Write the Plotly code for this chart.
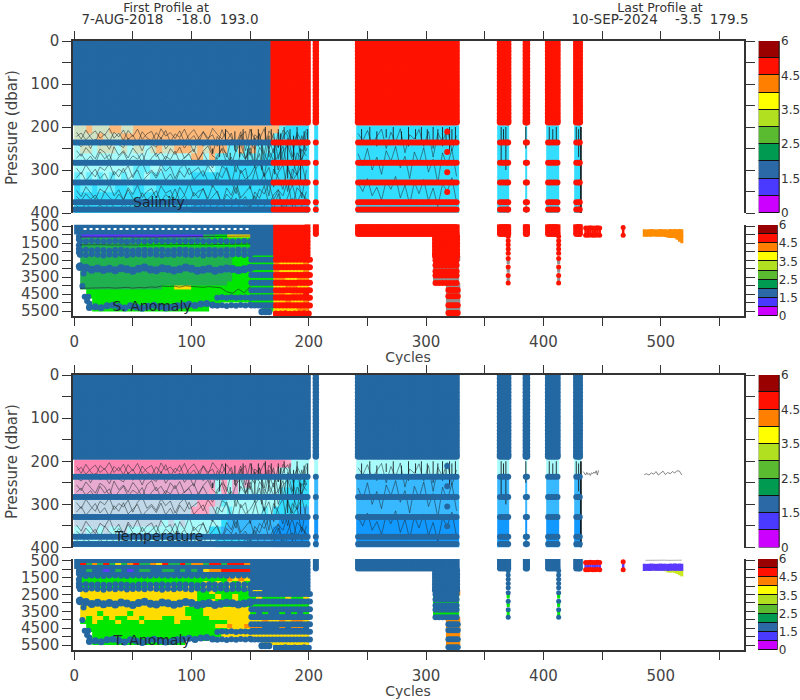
import plotly.graph_objects as go

# ---------- palette ----------
palette = {
    'B': '#2468a2', 'R': '#ff1200', 'G': '#20b050', 'L': '#00e800', 'Y': '#ffdc00', 'O': '#ff8c00',
    'P': '#fcb97a', 'S': '#cfe3c4', 'C': '#a8fbfb', 'M': '#66eeff', 'A': '#33ddff', 'D': '#25c0ff',
    'K': '#ff85b0', 'N': '#ffa6c4', 'U': '#e8aad0', 'V': '#c0d8e8', 'E': '#38b8ff', 'F': '#1199ff',
    'I': '#5a38ff', 'T': '#c8e820',
}
codes = list(palette)

# ---------- colour key ----------
cbar_colors = ['#cc00ff', '#4a3aff', '#2a69a6', '#009a50', '#5abb30', '#b0e020', '#ffff00', '#ff8000', '#ff1000', '#990000']
cbar_steps = [1] * 10
cbar_ticks = [0, 2, 4, 6, 8, 10]
cbar_labels = ['0', '1.5', '2.5', '3.5', '4.5', '6']

# ---------- cell grids ----------
cycle_edges = [0, 5, 10, 15, 20, 25, 30, 35, 40, 45, 50, 55, 60, 65, 70, 75, 80, 85, 90, 95, 100, 105, 110, 115, 120,
               125, 130, 135, 140, 145, 150, 155, 160, 165, 170, 175, 180, 185, 190, 195, 200,
               204.5, 208, 240, 250, 260, 270, 280, 290, 300, 310, 320, 328, 361, 371, 384.7, 386.5, 402.3, 413.4, 426.6, 432]
shallow_edges = [196, 215, 236, 260, 283, 306, 330, 352, 375, 400]
deep_edges = [400, 620, 760, 1000, 1150, 1400, 1700, 2000, 2250, 2500, 2750, 3000, 3250, 3500, 3750, 4000, 4250, 4500,
              4750, 5000, 5250, 5500, 5800]

late_a = ".A.AAAAAAAAA.A.A.A.A"
late_c = ".C.CCCCCCCCC.C.C.C.C"
late_e = ".E.EEEEEEEEE.E.E.E.E"
late_f = ".F.FFFFFFFFF.F.F.F.F"
late_x = "." * 20

sal_cells = [
    "SSPSSSPPSS" + "P" * 24 + "PMAAAA" + late_a,
    "SSSSPSSSPP" + "P" * 24 + "MAAAAA" + late_a,
    "CSSCSSSCSC" + "SSCSPSSPPP" + "SPSPPPMMPM" + "PMMM" + "AAAAAA" + late_a,
    "C" * 20 + "PPCPMMMMMM" + "MMAA" + "A" * 6 + late_a,
    "C" * 10 + "MMMCCMMMMM" + "MMMCMAAAAA" + "AAAA" + "A" * 6 + late_a,
    "MCMCMCMCMC" + "MMCMMMMMMM" + "A" * 10 + "AAAA" + "A" * 6 + late_a,
    "AMMAMMMAAM" + "AAMMAAAAAA" + "A" * 10 + "AAAA" + "A" * 6 + late_a,
    "A" * 40 + late_a,
    "A" * 20 + "D" * 20 + late_a,
]
tem_cells = [
    "K" * 36 + "NCCC" + late_c,
    "K" * 34 + "NCCCCC" + late_c,
    "U" * 20 + "UUUUCNCUCU" + "CCCC" + "CCMAAA" + late_e,
    "U" * 20 + "UUUNCNCUCC" + "CCCC" + "CMAAAA" + late_e,
    "V" * 20 + "VNNNVMCCCC" + "CCCC" + "CAAAAA" + late_e,
    "V" * 20 + "NNNVCCMCCC" + "CCMC" + "AAAAEE" + late_e,
    "V" * 15 + "CVCVC" + "CCCCCAEEEE" + "EEEE" + "EFFFFF" + late_f,
    "CVCVCVCCVC" + "C" * 10 + "CCCAAEEEEE" + "EEEE" + "FFFFFF" + late_f,
    "C" * 24 + "AAAAAE" + "EEEE" + "FFFFFF" + late_f,
]
san_cells = [
    "B" * 34 + "R" * 6 + late_x,
    "B" * 34 + "R" * 6 + late_x,
    "B" * 34 + "R" * 6 + late_x,
    "." + "I" * 21 + "GG" + "LL" + "YYYY" + "B" * 4 + "R" * 6 + late_x,
    "." + "G" * 22 + "L" * 7 + "B" * 4 + "R" * 6 + late_x,
    "." + "G" * 10 + "L" * 19 + "B" * 4 + "R" * 6 + late_x,
    "." + "G" * 29 + "B" * 4 + "R" * 6 + late_x,
    "." + "G" * 29 + "B" * 4 + "R" * 6 + late_x,
    "." + "G" * 26 + "LLL" + "LLLL" + "R" * 6 + late_x,
    "." + "G" * 26 + "LLL" + "LLLL" + "OYYYYO" + late_x,
    "." + "G" * 26 + "LLL" + "BBBB" + "R" * 6 + late_x,
    "." + "G" * 26 + "LLL" + "LLLL" + "OYYYYO" + late_x,
    "." + "G" * 26 + "LLL" + "BBBB" + "R" * 6 + late_x,
    "." + "G" * 26 + "LLL" + "LLLL" + "OOYYOO" + late_x,
    "." + "G" * 25 + "LLLL" + "BBBB" + "R" * 6 + late_x,
    "." + "G" * 14 + "LLYYYLLL" + "L" * 7 + "LLLL" + "YYOOYY" + late_x,
    ".." + "L" * 28 + "LLLL" + "OOYOOR" + late_x,
    ".." + "L" * 28 + "BBBB" + "R" * 6 + late_x,
    "..." + "L" * 27 + "LLLL" + "YYOYYO" + late_x,
    "..." + "L" * 22 + "....." + "BBBB" + "R" * 6 + late_x,
    "..." + "L" * 20 + "......." + "..LL" + "YYYYOO" + late_x,
    "." * 34 + "R" * 6 + late_x,
]
tan_cells = [
    "B" * 40 + late_x,
    "B" + "RGOGRGYGOR" + "GGOYRGGRGO" + "OGRRGRRRO" + "B" * 10 + late_x,
    "B" * 40 + late_x,
    "." + "BGBBIBGBIB" + "GGBBGGBGBG" + "BYOORRRRR" + "B" * 10 + late_x,
    "." + "B" * 29 + "B" * 10 + late_x,
    "." + "L" * 25 + "OYOY" + "B" * 10 + late_x,
    "." + "L" * 20 + "LYLYLYLYL" + "B" * 10 + late_x,
    "." + "L" * 10 + "LLYLLYLLYL" + "LYLLLYLLY" + "BBBB" + "B" * 6 + late_x,
    "." + "Y" * 20 + "LLYLLLLLL" + "YYBB" + "B" * 6 + late_x,
    "." + "Y" * 20 + "LLLYLLYLL" + "LYLL" + "LLYLLY" + late_x,
    "." + "Y" * 20 + "LLYLLLYLL" + "BBBB" + "B" * 6 + late_x,
    "." + "Y" * 20 + "L" * 9 + "LLLL" + "L" * 6 + late_x,
    "." + "Y" * 18 + "LLL" + "Y" * 8 + "BBBB" + "B" * 6 + late_x,
    "." + "YYYLYYYYLY" + "YYYYYYYY" + "LLL" + "Y" * 8 + "LBLB" + "BLBLBL" + late_x,
    "." + "YLYYLYLLYY" + "LYYYLLYYY" + "LLL" + "Y" * 7 + "BBBB" + "B" * 6 + late_x,
    "." + "LLYLLLYLLL" + "YLLLLLYLLLLLLL" + "LYYYY" + "YYOY" + "YOYOOY" + late_x,
    ".." + "L" * 22 + "YYOYYO" + "OOBB" + "BOBOOB" + late_x,
    ".." + "L" * 24 + "YYYY" + "BBBB" + "B" * 6 + late_x,
    "..." + "L" * 22 + "YYYYY" + "YYYY" + "YYYYYY" + late_x,
    "..." + "L" * 20 + "......." + "BBBB" + "B" * 6 + late_x,
    "..." + "L" * 16 + "." * 11 + "..YY" + "YYYYYY" + late_x,
    "." * 34 + "B" * 6 + late_x,
]

# ---------- flagged levels ----------
block_spans = [(0, 199), (206, 206), (242, 326), (363, 370), (385, 386), (404, 412), (428, 431)]
upper_levels = [0, 8, 16, 24, 32, 40, 48, 56, 64, 72, 80, 88, 96, 104, 112, 120, 128, 136, 144, 152, 160, 168, 176, 184, 189]
band_levels = [236, 283, 329, 375, 392]
lone_cycle = [318, 318, 318, 318]
lone_levels = [211, 258, 305, 351]
flag_switch_cycle = 170

deep_block_spans = [(206, 206), (242, 326), (363, 370), (385, 386), (404, 412), (428, 431)]
deep_block_levels = [400, 520, 640, 760, 880, 960]
edge_cycle = [199]
edge_levels = [400, 600, 800, 1000, 1200, 1400, 1600, 1800, 2000, 2200]
tail_cycles = [308, 311, 314, 317, 320, 323, 326]
tail_block_levels = [1100, 1300, 1500, 1700, 1900, 2100, 2250]
tail_row_levels = [2500, 2800, 3150, 3400, 3850]
tail_fill_levels = [2650, 2950, 3270, 3550, 3700]
end_cycles = [319, 321, 323, 325, 327]
end_row_levels = [4260, 4620, 5150, 5620]
end_fill_levels = [2400, 4000, 4440, 4880, 5380]
column_cycles = [370, 413]
column_levels = [1100, 1350, 1600, 1850, 2100]
column_dot_levels = [2400, 2900, 3400, 3850]
column_fill_levels = [2550, 2650, 3050, 3150, 3550, 3700]

# ---------- deep level rows ----------
row_cycles = [5, 10, 15, 20, 25, 30, 35, 40, 45, 50, 55, 60, 65, 70, 75, 80, 85, 90, 95, 100, 105, 110, 115, 120, 125, 130, 135, 140, 145, 150]
row_a = [1380, 1400, 1375, 1385, 1405, 1380, 1370, 1385, 1410, 1375, 1380, 1395, 1385, 1375, 1380, 1390, 1370, 1385, 1380, 1395, 1375, 1385, 1390, 1380, 1375, 1385, 1395, 1380, 1370, 1385]
row_b = [1910, 1890, 1930, 1905, 1920, 1940, 1900, 1890, 1925, 1950, 1910, 1895, 1930, 1920, 1900, 1940, 1915, 1890, 1905, 1930, 1950, 1920, 1895, 1910, 1940, 1900, 1925, 1890, 1915, 1930]
row_c = [2170, 2200, 2150, 2180, 2220, 2160, 2190, 2140, 2210, 2170, 2155, 2195, 2140, 2180, 2215, 2160, 2190, 2145, 2175, 2200, 2150, 2220, 2165, 2190, 2140, 2205, 2170, 2155, 2190, 2175]
row_d = [2900, 2950, 3060, 2990, 3080, 3010, 3100, 2980, 3040, 3120, 3000, 2930, 3050, 3090, 2970, 3020, 3110, 3030, 2940, 3010, 3120, 3060, 3000, 3130, 3050, 2990, 3020, 3100, 3040, 2960]
base_cycles = [13, 18, 23, 28, 33, 38, 43, 48, 53, 58, 63, 68, 73, 78, 83, 88, 93, 98, 103, 108, 113, 118]
base_levels = [5290, 5240, 5300, 5190, 5150, 5230, 5320, 5180, 5260, 5340, 5210, 5150, 5240, 5320, 5280, 5190, 5150, 5100, 5170, 5080, 5050, 5140]
stub_cycles = [4, 4, 4, 4, 4, 5, 5, 4, 8, 7, 9, 12, 11, 13]
stub_levels = [1100, 1280, 1620, 1850, 2050, 2180, 2800, 2860, 3280, 4020, 4650, 4650, 4900, 5050]
side_cycles = [122, 126, 130, 134, 138, 142, 146, 150]
side_high = [4720, 4690, 4710, 4680, 4720, 4700, 4700, 4710]
side_low = [5190, 5150, 5200, 5160, 5190, 5140, 5170, 5120]
late_cycles = [151, 154, 157, 160, 163, 166, 169, 172, 175, 178, 181, 184, 187, 190, 193, 196, 199, 201]
late_levels = [2480, 2920, 3370, 3830, 4270, 4710, 5170]
floor_a_cycles = [160, 163, 166]
floor_a_levels = [5540, 5540, 5540]
floor_b_cycles = [172, 176, 180, 184, 188, 192, 196, 200]
floor_b_levels = [5650, 5650, 5630, 5660, 5640, 5650, 5630, 5650]

# ---------- late drifting profiles ----------
twin_cycles = [436, 438, 440, 442, 444, 446, 448, 468]
twin_upper = [600, 600, 590, 600, 600, 590, 600, 570]
twin_lower = [1030, 1030, 1020, 1030, 1030, 1020, 1030, 1030]
drift_cycles = [486, 488, 490, 492, 494, 496, 498, 500, 502, 504, 506, 508, 510, 512, 514, 516, 518]
drift_top = [680, 690, 680, 670, 680, 690, 680, 670, 680, 680, 690, 670, 680, 660, 680, 670, 680]
drift_mid = [1110, 1100, 1110, 1100, 1090, 1100, 1100, 1100, 1100, 1090, 1110, 1100, 1090, 1100, 1100, 1100, 1100]
drift_bot = [1110, 1100, 1110, 1100, 1090, 1100, 1100, 1100, 1100, 1130, 1180, 1200, 1190, 1210, 1300, 1420, 1500]
drift_tan_bot = [1110, 1100, 1110, 1100, 1090, 1100, 1100, 1100, 1100, 1130, 1190, 1210, 1200, 1230, 1290, 1360, 1430]
gap_cycles = [434, 435, 436, 437, 438, 439, 440, 441, 442, 443, 444, 445, 446, 447, None, 486, 488, 490, 492, 494, 496, 498, 500, 502, 504, 506, 508, 510, 512, 514, 516, 518]
gap_pressure = [224, 230, 232, 226, 231, 228, 233, 227, 229, 225, 228, 222, 232, 221, None, 231, 229, 232, 227, 230, 224, 232, 228, 223, 231, 226, 229, 224, 227, 222, 223, 232]
deep_gap_cycles = [487, 491, 495, 499, 503, 507, 511, 515, 518]
deep_gap_pressure = [480, 470, 480, 490, 470, 480, 475, 480, 470]

# ---------- profile traces ----------
wiggle_cycles = [2, 6, 10, 14, 18, 22, 26, 30, 34, 38, 42, 46, 50, 54, 58, 62, 66, 70, 74, 78, 82, 86, 90, 94, 98, 102, 106, 110, 114, 118,
                 122, 126, 130, 134, 138, 142, 146, 150, 154, 158, 162, 166, 170, 174, 178, 182, 186, 190, 194, 198]
wig_a = [212, 228, 207, 224, 236, 210, 219, 203, 226, 214, 231, 208, 222, 205, 229, 216, 210, 234, 204, 221, 213, 227, 209, 236, 218, 206, 225, 212, 231, 203, 217, 228, 208, 223, 240, 211, 255, 205, 230, 216, 262, 209, 225, 248, 207, 220, 270, 212, 235, 205]
wig_b = [255, 268, 248, 262, 274, 251, 259, 280, 246, 266, 255, 272, 249, 263, 283, 254, 245, 269, 258, 276, 250, 264, 247, 273, 260, 252, 278, 256, 244, 267, 275, 249, 262, 290, 253, 241, 272, 258, 295, 247, 265, 282, 250, 300, 256, 243, 276, 310, 252, 268]
wig_c = [296, 310, 288, 304, 316, 293, 301, 285, 312, 298, 306, 290, 318, 295, 283, 309, 300, 314, 287, 303, 292, 320, 297, 286, 311, 302, 294, 315, 289, 305, 325, 291, 299, 335, 284, 308, 296, 345, 302, 282, 316, 294, 340, 306, 288, 350, 298, 312, 285, 330]
wig_d = [348, 362, 339, 355, 368, 344, 352, 333, 360, 346, 370, 341, 357, 335, 364, 350, 343, 366, 337, 354, 347, 372, 340, 358, 330, 361, 349, 345, 367, 336, 353, 380, 342, 359, 328, 365, 351, 338, 375, 344, 356, 332, 369, 347, 360, 325, 385, 341, 355, 372]
wig_e = [238, 246, 232, 250, 228, 243, 235, 252, 230, 241, 248, 226, 244, 233, 255, 229, 240, 247, 224, 251, 236, 242, 227, 249, 234, 258, 225, 245, 231, 262, 222, 239, 270, 228, 248, 218, 275, 235, 252, 215, 280, 230, 260, 212, 285, 226, 240, 290, 220, 255]
wig_f = [383, 392, 378, 388, 395, 381, 390, 376, 386, 394, 379, 389, 375, 391, 384, 377, 396, 382, 388, 374, 393, 380, 387, 372, 397, 385, 378, 390, 370, 394, 383, 376, 392, 386, 365, 395, 380, 388, 360, 396, 384, 370, 391, 355, 398, 378, 366, 393, 385, 350]
wig_g = [222, 214, 230, 218, 209, 226, 217, 234, 212, 223, 207, 229, 219, 238, 211, 225, 232, 213, 227, 208, 235, 216, 224, 205, 231, 220, 239, 210, 226, 218, 245, 206, 233, 214, 258, 222, 210, 266, 218, 228, 204, 252, 215, 275, 223, 208, 240, 219, 280, 213]
wig_h = [272, 262, 279, 268, 285, 258, 274, 264, 288, 270, 258, 281, 267, 275, 261, 289, 272, 260, 284, 268, 276, 256, 282, 271, 263, 287, 274, 259, 280, 295, 266, 252, 283, 270, 305, 258, 276, 248, 290, 262, 315, 254, 279, 268, 245, 298, 320, 260, 275, 250]
wig_i = [318, 305, 325, 312, 298, 320, 308, 329, 303, 316, 296, 322, 310, 300, 327, 314, 304, 319, 297, 324, 309, 330, 302, 317, 295, 323, 311, 301, 326, 340, 306, 318, 294, 328, 355, 300, 322, 312, 292, 335, 307, 360, 298, 318, 345, 290, 326, 308, 365, 300]
wig_j = [362, 372, 355, 368, 358, 376, 350, 364, 373, 356, 369, 346, 366, 378, 353, 370, 360, 348, 374, 357, 367, 344, 371, 359, 378, 352, 365, 342, 375, 361, 349, 381, 356, 368, 340, 373, 362, 388, 351, 366, 336, 380, 358, 345, 390, 363, 334, 376, 352, 368]
after_cycles = [242, 246, 250, 254, 258, 262, 266, 270, 274, 278, 282, 286, 290, 294, 298, 302, 306, 310, 314, 318, 322, 326]
after_a = [215, 232, 208, 240, 222, 205, 250, 212, 236, 204, 260, 218, 228, 206, 245, 210, 270, 214, 235, 203, 255, 220]
after_b = [262, 290, 250, 300, 270, 310, 255, 280, 245, 295, 268, 320, 258, 285, 248, 305, 275, 330, 260, 290, 252, 315]
after_c = [330, 350, 320, 360, 340, 370, 325, 345, 315, 365, 335, 380, 328, 355, 322, 372, 342, 385, 332, 350, 318, 375]
spike_x = [118, 124, 129, 133, 137, 141, 144, 148, 151, 154, 157, 160, 163, 166, 168, 171, 174, 176, 179, 182, 184, 187, 190, 193, 196, 199,
           245, 252, 258, 266, 272, 279, 285, 291, 296, 301, 306, 310, 314, 317, 320, 322, 325,
           364, 366, 368, 385, 405, 408, 411, 428, 430]
spike_top = [250, 240, 205, 260, 210, 235, 205, 250, 205, 225, 205, 240, 200, 220, 205, 240, 205, 215, 200, 240, 205, 220, 200, 250, 210, 205,
             205, 200, 210, 205, 200, 210, 200, 205, 200, 205, 200, 205, 200, 205, 200, 205, 200,
             200, 205, 200, 200, 200, 205, 200, 200, 205]
spike_bot = [262, 270, 240, 285, 255, 270, 235, 290, 232, 280, 245, 300, 232, 270, 238, 310, 248, 280, 228, 320, 240, 285, 232, 330, 255, 238,
             235, 230, 245, 225, 240, 230, 245, 228, 238, 232, 250, 235, 245, 240, 255, 235, 230,
             280, 240, 300, 250, 230, 240, 235, 230, 270]
end_line_cycle = [432, 432]
end_line_pressure = [200, 400]
thin_a = [1130, 1140, 1130, 1135, 1140, 1130, 1135, 1140, 1130, 1135, 1140, 1130, 1135, 1140, 1130, 1125, 1130, 1120, 1100, 1090, 1080, 1090, 1085, 1075, 1080, 1085, 1070, 1080, 1075, 1080]
thin_b = [1600, 1590, 1610, 1600, 1590, 1605, 1610, 1590, 1600, 1615, 1590, 1600, 1610, 1590, 1600, 1605, 1590, 1580, 1600, 1590, 1580, 1595, 1600, 1580, 1570, 1590, 1575, 1580, 1560, 1550]
thin_c = [4160, 4150, 4160, 4130, 4150, 4120, 4150, 4130, 4100, 4150, 4110, 4130, 4080, 4100, 4020, 4060, 4030, 4090, 4010, 4050, 4080, 4100, 4060, 4090, 4130, 4360, 4450, 4200, 4430, 4050]
dash_cycles = [8, 150]
dash_levels = [660, 660]

# ---------- axis ticks ----------
cycle_ticks = [0, 50, 100, 150, 200, 250, 300, 350, 400, 450, 500, 550]
cycle_labels = ['0', '', '100', '', '200', '', '300', '', '400', '', '500', '']
shallow_ticks = [0, 50, 100, 150, 200, 250, 300, 350, 400]
shallow_labels = ['0', '', '100', '', '200', '', '300', '', '400']
deep_ticks = [500, 1000, 1500, 2000, 2500, 3000, 3500, 4000, 4500, 5000, 5500]
deep_labels = ['500', '', '1500', '', '2500', '', '3500', '', '4500', '', '5500']

INK = '#333333'
FONT = 'DejaVu Sans'
W, H = 800, 700
AX_L, AX_R = 73, 744
panels = {'': (41, 213), '2': (224.5, 316), '3': (375, 547.5), '4': (559, 650)}

fig = go.Figure()


def spread(spans, step=2):
    out = []
    for a, b in spans:
        c = a
        while c <= b:
            out.append(c)
            c += step
        if out[-1] != b:
            out.append(b)
    return out


def dots(ax, xs, ys, color, size=6, symbol='circle'):
    fig.add_trace(go.Scatter(x=xs, y=ys, mode='markers', xaxis='x' + ax, yaxis='y' + ax, hoverinfo='skip', showlegend=False,
                             marker=dict(color=color, size=size, symbol=symbol, line=dict(width=0))))


def grid(cs, ls):
    xs, ys = [], []
    for c in cs:
        for l in ls:
            xs.append(c)
            ys.append(l)
    return xs, ys


def line(ax, xs, ys, color='rgba(30,40,45,0.75)', width=0.7, dash=None):
    fig.add_trace(go.Scatter(x=xs, y=ys, mode='lines', xaxis='x' + ax, yaxis='y' + ax, hoverinfo='skip', showlegend=False,
                             line=dict(color=color, width=width, dash=dash)))


def cells(ax, rows, edges):
    z = [[None if ch == '.' else codes.index(ch) for ch in row] for row in rows]
    n = len(codes)
    scale = []
    for i, k in enumerate(codes):
        scale += [[i / n, palette[k]], [(i + 1) / n, palette[k]]]
    fig.add_trace(go.Heatmap(z=z, x=cycle_edges, y=edges, xaxis='x' + ax, yaxis='y' + ax, zmin=-0.5, zmax=n - 0.5,
                             colorscale=scale, showscale=False, hoverinfo='skip'))


def upper_panel(ax, rows, hot, lone_flags):
    cells(ax, rows, shallow_edges)
    for w in (wig_a, wig_b, wig_c, wig_d, wig_e, wig_f, wig_g, wig_h, wig_i, wig_j):
        line(ax, wiggle_cycles, w)
    for w in (after_a, after_b, after_c):
        line(ax, after_cycles, w)
    sx, sy = [], []
    for c, a, b in zip(spike_x, spike_top, spike_bot):
        sx += [c, c, None]
        sy += [a, b, None]
    line(ax, sx, sy, color='#1a2024', width=0.9)
    line(ax, end_line_cycle, end_line_pressure, color='#000000', width=1.5)
    all_c = spread(block_spans)
    cool = [c for c in all_c if c < flag_switch_cycle]
    warm = [c for c in all_c if c >= flag_switch_cycle]
    for cs, col in ((cool, palette['B']), (warm, hot)):
        xs, ys = grid(cs, upper_levels)
        dots(ax, xs, ys, col, 6.5)
        xs, ys = grid(cs, band_levels)
        dots(ax, xs, ys, col, 6)
    dots(ax, lone_cycle, lone_levels, lone_flags, 6)


def lower_panel(ax, rows, hot, tail_fill, end_fill, column_fill, twin_mid, main_drift, low_drift, bot_vals):
    cells(ax, rows, deep_edges)
    xs, ys = grid(edge_cycle, edge_levels)
    dots(ax, xs, ys, hot, 6)
    xs, ys = grid(spread(deep_block_spans), deep_block_levels)
    dots(ax, xs, ys, hot, 6)
    xs, ys = grid(tail_cycles, tail_fill_levels)
    dots(ax, xs, ys, tail_fill, 5, 'square')
    xs, ys = grid(end_cycles, end_fill_levels)
    dots(ax, xs, ys, end_fill, 5, 'square')
    xs, ys = grid(column_cycles, column_fill_levels)
    dots(ax, xs, ys, column_fill, 3, 'square')
    xs, ys = grid(tail_cycles, tail_block_levels)
    dots(ax, xs, ys, hot, 7)
    xs, ys = grid(tail_cycles, tail_row_levels)
    dots(ax, xs, ys, hot, 6)
    xs, ys = grid(end_cycles, end_row_levels)
    dots(ax, xs, ys, hot, 6)
    xs, ys = grid(column_cycles, column_levels)
    dots(ax, xs, ys, hot, 5)
    xs, ys = grid(column_cycles, column_dot_levels)
    dots(ax, xs, ys, hot, 5)
    tx, ty = [], []
    for c, a, b in zip(twin_cycles, twin_upper, twin_lower):
        tx += [c, c, None]
        ty += [a, b, None]
    line(ax, tx, ty, color=twin_mid, width=2.5)
    dots(ax, twin_cycles, twin_upper, palette['R'], 5)
    dots(ax, twin_cycles, twin_lower, palette['R'], 5)
    gx, gy = [], []
    for c, b, d in zip(drift_cycles, drift_mid, bot_vals):
        gx += [c, c, None]
        gy += [b - 60, d, None]
    line(ax, gx, gy, color=low_drift, width=3)
    fx, fy = [], []
    for c, a, b in zip(drift_cycles, drift_top, drift_mid):
        fx += [c, c, None]
        fy += [a, b, None]
    line(ax, fx, fy, color=main_drift, width=3)
    for r in (row_a, row_b, row_c):
        dots(ax, row_cycles, r, palette['B'], 6)
    dots(ax, row_cycles, row_d, palette['B'], 8)
    dots(ax, base_cycles, base_levels, palette['B'], 7)
    dots(ax, stub_cycles, stub_levels, palette['B'], 6)
    dots(ax, side_cycles, side_high, palette['B'], 6)
    dots(ax, side_cycles, side_low, palette['B'], 6)
    cool = [c for c in late_cycles if c < flag_switch_cycle]
    warm = [c for c in late_cycles if c >= flag_switch_cycle]
    xs, ys = grid(cool, late_levels)
    dots(ax, xs, ys, palette['B'], 6)
    xs, ys = grid(warm, late_levels)
    dots(ax, xs, ys, hot, 6)
    dots(ax, floor_a_cycles, floor_a_levels, palette['B'], 7)
    dots(ax, floor_b_cycles, floor_b_levels, hot, 6)


# ---- panels ----
upper_panel('', sal_cells, palette['R'], palette['R'])
lower_panel('2', san_cells, palette['R'], '#909090', '#909090', '#909090', palette['R'], palette['O'], palette['O'], drift_bot)
line('2', row_cycles, thin_a, width=0.8)
line('2', row_cycles, thin_b, width=0.8)
line('2', row_cycles, thin_c, width=0.8)
line('2', dash_cycles, dash_levels, color='#ffffff', width=2, dash='dot')

upper_panel('3', tem_cells, palette['B'], palette['B'])
line('3', gap_cycles, gap_pressure, color='#666666', width=0.8)
lower_panel('4', tan_cells, palette['B'], palette['L'], palette['O'], palette['L'], palette['I'], palette['I'], palette['T'], drift_tan_bot)
line('4', deep_gap_cycles, deep_gap_pressure, color='#999999', width=0.8)

# ---- colour keys ----
key_boxes = [('5', (41, 213), (758.7, 780), 12), ('6', (225, 316), (758, 777.7), 12),
             ('7', (375, 547.5), (758.7, 780), 12), ('8', (559, 650), (758, 777.7), 12)]
for ax, (t, b), (l, r), fs in key_boxes:
    fig.add_trace(go.Bar(x=[0.5] * len(cbar_steps), y=cbar_steps, base=list(range(len(cbar_steps))), width=1,
                         xaxis='x' + ax, yaxis='y' + ax, hoverinfo='skip', showlegend=False,
                         marker=dict(color=cbar_colors, line=dict(color='#111111', width=1))))

# ---- labels placed in page pixels on a hidden full-page axis pair ----
label_text = ['First Profile at', '7-AUG-2018   -18.0  193.0', 'Last Profile at', '10-SEP-2024    -3.5  179.5',
              'Cycles', 'Cycles', 'Salinity', 'S. Anomaly', 'Temperature', 'T. Anomaly']
label_px = [166, 170, 660, 660, 408, 408, 159, 152, 159, 152]
label_py = [9, 21, 9, 21, 358, 692, 203, 307, 537, 641]
label_size = [12.5, 13.5, 12.5, 13.5, 14, 14, 14, 14, 14, 14]
label_color = ['#333333'] * 4 + ['#444444'] * 2 + ['#1a2530'] * 4
fig.add_trace(go.Scatter(x=label_px, y=label_py, text=label_text, mode='text', xaxis='x9', yaxis='y9', hoverinfo='skip', showlegend=False,
                         cliponaxis=False, textposition='middle center',
                         textfont=dict(family=FONT, size=label_size, color=label_color)))

layout = dict(width=W, height=H, autosize=False, margin=dict(l=0, r=0, t=0, b=0), plot_bgcolor='rgba(0,0,0,0)', paper_bgcolor='white',
              font=dict(family=FONT, color=INK), showlegend=False, bargap=0, template='none')
for i, (ax, (t, b)) in enumerate(panels.items()):
    deep = ax in ('2', '4')
    layout['xaxis' + ax] = dict(domain=[AX_L / W, AX_R / W], range=[-1, 571], anchor='y' + ax, automargin=False,
                                side='bottom' if deep else 'top', tickmode='array', tickvals=cycle_ticks,
                                ticktext=cycle_labels if deep else [''] * len(cycle_ticks), ticks='outside', ticklen=8, tickwidth=1.3,
                                tickcolor=INK, showline=True, linecolor=INK, linewidth=1.5, showgrid=False, zeroline=False,
                                ticklabelstandoff=3, tickfont=dict(size=15, family=FONT, color='#444444'), showticklabels=True if deep else False)
    layout['yaxis' + ax] = dict(domain=[1 - b / H, 1 - t / H], range=[5790, 400] if deep else [400, 0], anchor='x' + ax, tickmode='array',
                                automargin=False, tickvals=deep_ticks if deep else shallow_ticks, ticktext=deep_labels if deep else shallow_labels,
                                ticks='outside', ticklen=9, tickwidth=1.3, tickcolor=INK, showline=True, linecolor=INK, linewidth=1.5,
                                mirror='ticks', showgrid=False, zeroline=False, tickfont=dict(size=15, family=FONT, color='#444444'))
for ax, (t, b), (l, r), fs in key_boxes:
    layout['xaxis' + ax] = dict(domain=[l / W, r / W], range=[0, 1], anchor='y' + ax, visible=False, fixedrange=True, automargin=False)
    layout['yaxis' + ax] = dict(domain=[1 - b / H, 1 - t / H], range=[0, 10], anchor='x' + ax, side='right', tickmode='array', automargin=False,
                                tickvals=cbar_ticks, ticktext=cbar_labels, ticks='', ticklen=0, showgrid=False, zeroline=False,
                                showline=False, tickfont=dict(size=fs, family=FONT, color='#333333'))
layout['xaxis9'] = dict(domain=[0, 1], range=[0, W], anchor='y9', visible=False, fixedrange=True, automargin=False)
layout['yaxis9'] = dict(domain=[0, 1], range=[H, 0], anchor='x9', visible=False, fixedrange=True, automargin=False)
fig.update_layout(**layout)

for py in (128, 462):
    fig.add_annotation(text='Pressure (dbar)', x=12 / W, y=1 - py / H, xref='paper', yref='paper', showarrow=False, textangle=-90,
                       xanchor='center', yanchor='middle', borderpad=0, font=dict(size=15, family=FONT, color='#444444'))

fig.write_html("out.html", config={'displayModeBar': False}, post_script="document.body.style.margin='0';")
